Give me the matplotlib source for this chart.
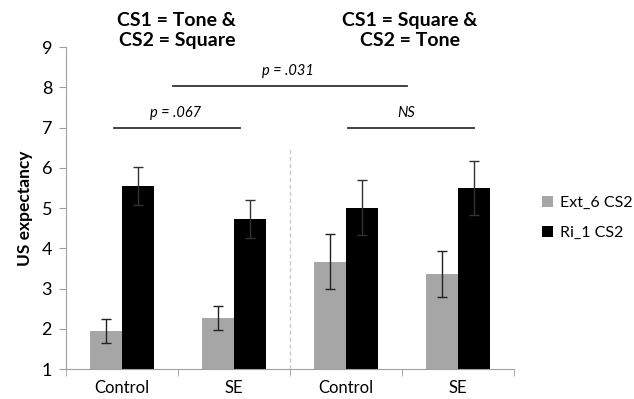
import matplotlib.pyplot as plt
import numpy as np

# data
groups = ["Control", "SE", "Control", "SE"]
ext6 = [1.94, 2.27, 3.67, 3.36]
ext6_err = [0.30, 0.30, 0.69, 0.58]
ri1 = [5.55, 4.73, 5.01, 5.50]
ri1_err = [0.47, 0.47, 0.68, 0.67]
titles = ["CS1 = Tone &\nCS2 = Square", "CS1 = Square &\nCS2 = Tone"]

plt.rcParams['font.family'] = ['Lato', 'DejaVu Sans']

fig = plt.figure(figsize=(6.34, 3.99), dpi=100)
ax = fig.add_axes([0.104, 0.075, 0.707, 0.807])

x = np.arange(len(groups))
w = 0.285
ax.bar(x - w / 2, ext6, w, color="#A6A6A6", label="Ext_6 CS2",
       yerr=ext6_err, error_kw=dict(ecolor="#222222", elinewidth=1, capsize=3.5, capthick=1))
ax.bar(x + w / 2, ri1, w, color="#000000", label="Ri_1 CS2",
       yerr=ri1_err, error_kw=dict(ecolor="#333333", elinewidth=1, capsize=3.5, capthick=1))

ax.set_ylim(1, 9)
ax.set_xlim(-0.5, 3.5)
ax.set_yticks(range(1, 10))
ax.set_xticks(x)
ax.set_xticklabels(groups)
ax.set_xticks([-0.5, 0.5, 1.5, 2.5, 3.5], minor=True)
ax.tick_params(axis="x", which="major", length=0, pad=8, labelsize=12)
ax.tick_params(axis="x", which="minor", length=5, color="#A0A0A0")
ax.tick_params(axis="y", length=5, color="#A0A0A0", labelsize=13, pad=5)
for s in ["top", "right"]:
    ax.spines[s].set_visible(False)
for s in ["left", "bottom"]:
    ax.spines[s].set_color("#A0A0A0")
ax.set_ylabel("US expectancy", fontsize=12.5, fontweight="bold", labelpad=6)

# divider between the two conditions
ax.plot([1.5, 1.5], [1, 6.5], ls=(0, (3, 2)), color="#CCCCCC", lw=1, clip_on=False)

# significance lines
ax.plot([-0.07, 1.05], [7.0, 7.0], color="#333333", lw=1.3)
ax.text(0.48, 7.2, "p = .067", style="italic", ha="center", va="bottom", fontsize=10.5)
ax.plot([0.455, 2.54], [8.04, 8.04], color="#333333", lw=1.3)
ax.text(1.48, 8.24, "p = .031", style="italic", ha="center", va="bottom", fontsize=10.5)
ax.plot([2.02, 3.14], [7.0, 7.0], color="#333333", lw=1.3)
ax.text(2.54, 7.2, "NS", style="italic", ha="center", va="bottom", fontsize=10.5)

# condition titles
ax.text(0.49, 1.003, titles[0], transform=ax.get_xaxis_transform(), ha="center", va="baseline",
        fontsize=14, fontweight="bold", linespacing=1.25)
ax.text(2.57, 1.003, titles[1], transform=ax.get_xaxis_transform(), ha="center", va="baseline",
        fontsize=14, fontweight="bold", linespacing=1.25)

ax.legend(loc="center left", bbox_to_anchor=(1.03, 0.47), frameon=False, fontsize=11.5,
          handlelength=0.7, handleheight=0.7, handletextpad=0.4, labelspacing=1.0)

fig.savefig("out.png", dpi=100)
